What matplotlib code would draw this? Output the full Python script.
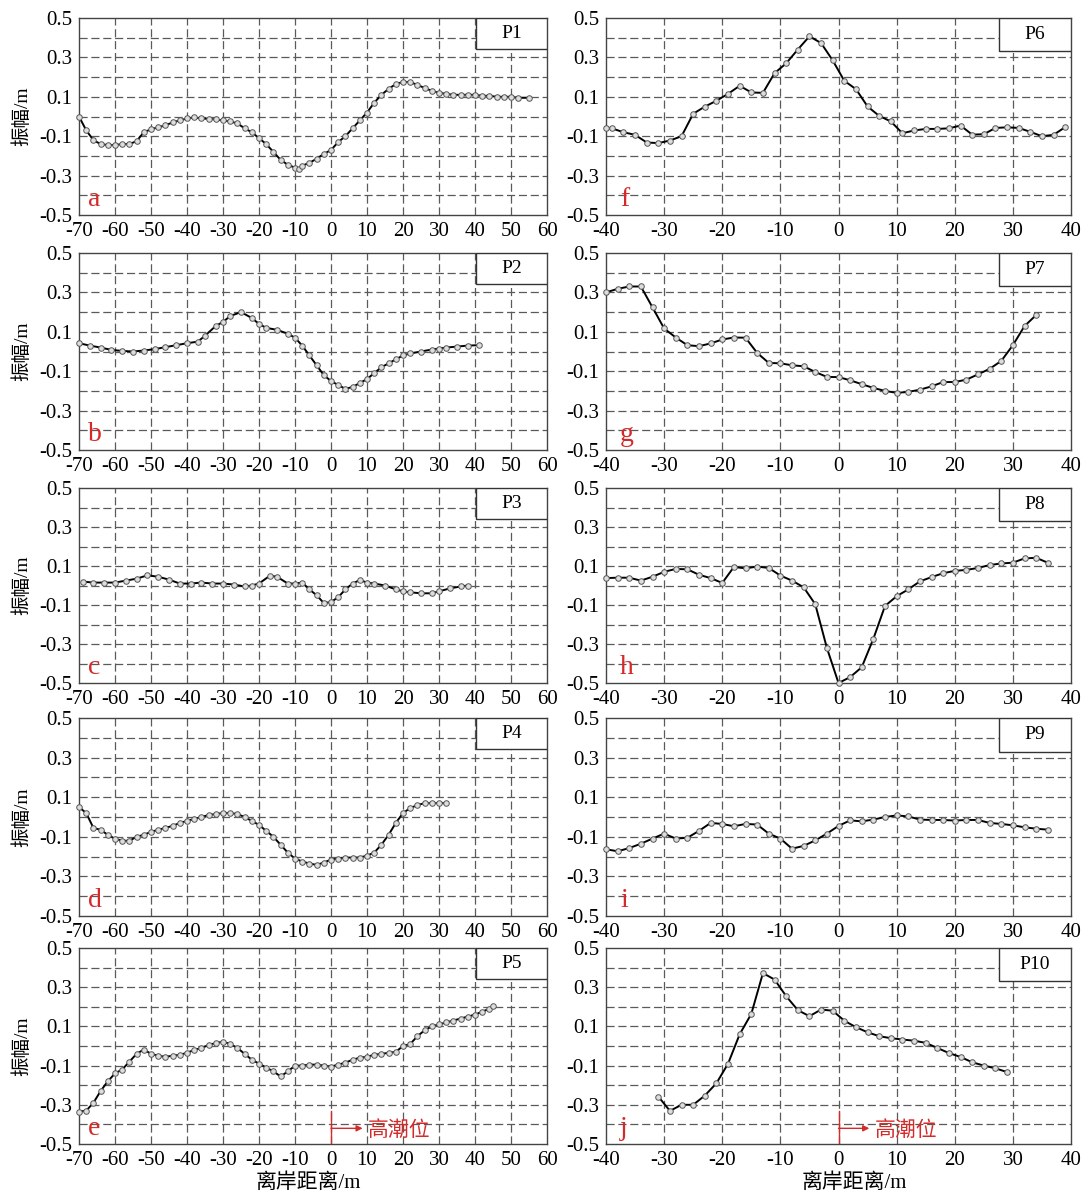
import matplotlib
matplotlib.use("Agg")
import matplotlib.pyplot as plt
from matplotlib.patches import Rectangle

plt.rcParams['font.family'] = ['Liberation Serif', 'Noto Sans CJK SC']

# ---------------- data ----------------
p1_x = [-70, -68, -66, -64, -62, -60, -58, -56, -54, -52, -50, -48, -46, -44, -42, -40, -38, -36, -34, -32,
        -30, -28, -26, -24, -22, -20, -18, -16, -14, -12, -10, -9, -8, -6, -4, -2, 0, 2, 4, 6, 8, 10, 12,
        14, 16, 18, 20, 22, 24, 26, 28, 30, 32, 34, 36, 38, 40, 42, 44, 46, 48, 50, 52, 55]
p1_y = [0.0, -0.07, -0.12, -0.14, -0.145, -0.145, -0.14, -0.14, -0.125, -0.08, -0.065, -0.055, -0.045,
        -0.03, -0.02, -0.01, -0.005, -0.01, -0.012, -0.015, -0.02, -0.025, -0.035, -0.06, -0.08, -0.11,
        -0.14, -0.18, -0.22, -0.245, -0.26, -0.265, -0.25, -0.235, -0.215, -0.19, -0.17, -0.13, -0.10,
        -0.06, -0.02, 0.02, 0.07, 0.11, 0.14, 0.165, 0.175, 0.175, 0.16, 0.145, 0.13, 0.12, 0.115, 0.11,
        0.11, 0.11, 0.11, 0.105, 0.105, 0.10, 0.10, 0.10, 0.095, 0.095]

p2_x = [-70, -67, -64, -61, -58, -55, -52, -49, -46, -43, -40, -37, -35, -32, -30, -28, -25, -22, -20,
        -18, -15, -12, -10, -8, -6, -4, -2, 0, 2, 4, 6, 8, 10, 12, 14, 16, 18, 20, 22, 25, 28, 30, 32,
        35, 38, 41]
p2_y = [0.042, 0.03, 0.02, 0.008, 0.003, 0.0, 0.005, 0.012, 0.022, 0.032, 0.042, 0.05, 0.08, 0.13, 0.15,
        0.18, 0.20, 0.17, 0.14, 0.12, 0.11, 0.09, 0.07, 0.03, -0.02, -0.07, -0.12, -0.15, -0.17, -0.19,
        -0.18, -0.16, -0.14, -0.11, -0.08, -0.06, -0.04, -0.02, -0.01, 0.0, 0.01, 0.015, 0.02, 0.025,
        0.03, 0.032]

p3_x = [-69, -66, -63, -60, -57, -54, -51, -48, -45, -42, -39, -36, -33, -30, -27, -24, -22, -20, -17,
        -15, -12, -10, -8, -6, -4, -2, 0, 2, 4, 6, 8, 10, 12, 15, 18, 20, 22, 25, 28, 30, 33, 36, 38]
p3_y = [0.02, 0.015, 0.015, 0.015, 0.025, 0.035, 0.052, 0.045, 0.03, 0.01, 0.01, 0.015, 0.01, 0.01,
        0.005, -0.005, 0.0, 0.01, 0.05, 0.045, 0.01, 0.01, 0.015, -0.02, -0.05, -0.09, -0.085, -0.06,
        -0.02, 0.01, 0.028, 0.015, 0.01, 0.0, -0.02, -0.03, -0.035, -0.04, -0.04, -0.03, -0.015, -0.005,
        0.0]

p4_x = [-70, -68, -66, -64, -62, -60, -58, -56, -54, -52, -50, -48, -46, -44, -42, -40, -38, -36, -34,
        -32, -30, -28, -26, -24, -22, -20, -18, -16, -14, -12, -10, -8, -6, -4, -2, 0, 2, 4, 6, 8, 10, 12,
        14, 16, 18, 20, 22, 24, 26, 28, 30, 32]
p4_y = [0.05, 0.02, -0.055, -0.065, -0.09, -0.11, -0.12, -0.12, -0.10, -0.09, -0.075, -0.065, -0.055,
        -0.045, -0.03, -0.02, -0.01, 0.0, 0.01, 0.015, 0.02, 0.02, 0.015, 0.0, -0.02, -0.04, -0.07,
        -0.10, -0.14, -0.18, -0.21, -0.225, -0.235, -0.242, -0.23, -0.215, -0.21, -0.205, -0.205,
        -0.205, -0.195, -0.18, -0.14, -0.09, -0.03, 0.02, 0.045, 0.06, 0.07, 0.07, 0.07, 0.07]

p5_x = [-70, -68, -66, -64, -62, -60, -58, -56, -54, -52, -50, -48, -46, -44, -42, -40, -38, -36, -34,
        -32, -30, -28, -26, -24, -22, -20, -18, -16, -14, -12, -10, -8, -6, -4, -2, 0, 2, 4, 6, 8, 10,
        12, 14, 16, 18, 20, 22, 24, 26, 28, 30, 32, 34, 36, 38, 40, 42, 44, 45]
p5_y = [-0.335, -0.33, -0.29, -0.23, -0.18, -0.14, -0.12, -0.08, -0.04, -0.018, -0.04, -0.05, -0.055,
        -0.05, -0.045, -0.035, -0.02, -0.01, 0.005, 0.015, 0.022, 0.01, -0.01, -0.04, -0.07, -0.09,
        -0.11, -0.13, -0.155, -0.13, -0.10, -0.10, -0.095, -0.095, -0.10, -0.105, -0.095, -0.085, -0.07,
        -0.06, -0.055, -0.045, -0.04, -0.035, -0.03, 0.0, 0.01, 0.05, 0.08, 0.10, 0.11, 0.12, 0.13, 0.14,
        0.15, 0.16, 0.175, 0.19, 0.205]

p6_x = [-40, -39, -37, -35, -33, -31, -29, -27, -25, -23, -21, -19, -17, -15, -13, -11, -9, -7, -5, -3,
        -1, 1, 3, 5, 7, 9, 11, 13, 15, 17, 19, 21, 23, 25, 27, 29, 31, 33, 35, 37, 39]
p6_y = [-0.06, -0.06, -0.08, -0.093, -0.132, -0.135, -0.122, -0.10, 0.014, 0.05, 0.08, 0.115, 0.156,
        0.122, 0.12, 0.22, 0.27, 0.34, 0.407, 0.373, 0.285, 0.181, 0.139, 0.051, 0.003, -0.025, -0.085,
        -0.071, -0.063, -0.063, -0.06, -0.046, -0.092, -0.09, -0.058, -0.055, -0.058, -0.078, -0.10,
        -0.093, -0.054]

p7_x = [-40, -38, -36, -34, -32, -30, -28, -26, -24, -22, -20, -18, -16, -14, -12, -10, -8, -6, -4, -2,
        0, 2, 4, 6, 8, 10, 12, 14, 16, 18, 20, 22, 24, 26, 28, 30, 32, 34]
p7_y = [0.30, 0.318, 0.33, 0.33, 0.224, 0.117, 0.071, 0.032, 0.027, 0.041, 0.061, 0.071, 0.07, -0.007,
        -0.058, -0.06, -0.07, -0.075, -0.104, -0.129, -0.13, -0.146, -0.166, -0.185, -0.20, -0.21, -0.205,
        -0.194, -0.177, -0.155, -0.155, -0.143, -0.116, -0.088, -0.048, 0.032, 0.129, 0.185]

p8_x = [-40, -38, -36, -34, -32, -30, -28, -26, -24, -22, -20, -18, -16, -14, -12, -10, -8, -6, -4, -2,
        0, 2, 4, 6, 8, 10, 12, 14, 16, 18, 20, 22, 24, 26, 28, 30, 32, 34, 36]
p8_y = [0.038, 0.04, 0.04, 0.025, 0.045, 0.07, 0.085, 0.083, 0.055, 0.038, 0.013, 0.095, 0.088, 0.097,
        0.09, 0.051, 0.025, -0.009, -0.096, -0.32, -0.50, -0.47, -0.419, -0.273, -0.105, -0.055, -0.02,
        0.021, 0.043, 0.063, 0.075, 0.08, 0.09, 0.105, 0.113, 0.117, 0.139, 0.142, 0.117]

p9_x = [-40, -38, -36, -34, -32, -30, -28, -26, -24, -22, -20, -18, -16, -14, -12, -10, -8, -6, -4, -2,
        0, 2, 4, 6, 8, 10, 12, 14, 16, 18, 20, 22, 24, 26, 28, 30, 32, 34, 36]
p9_y = [-0.163, -0.173, -0.157, -0.135, -0.109, -0.084, -0.109, -0.105, -0.07, -0.03, -0.035, -0.047,
        -0.035, -0.038, -0.084, -0.109, -0.16, -0.146, -0.118, -0.084, -0.045, -0.017, -0.022, -0.013,
        0.0, 0.008, 0.003, -0.013, -0.015, -0.015, -0.018, -0.015, -0.015, -0.03, -0.035, -0.042,
        -0.052, -0.059, -0.064]

p10_x = [-31, -29, -27, -25, -23, -21, -19, -17, -15, -13, -11, -9, -7, -5, -3, -1, 1, 3, 5, 7, 9, 11,
         13, 15, 17, 19, 21, 23, 25, 27, 29]
p10_y = [-0.258, -0.331, -0.30, -0.30, -0.253, -0.19, -0.09, 0.06, 0.164, 0.372, 0.339, 0.254, 0.183,
         0.152, 0.186, 0.18, 0.129, 0.096, 0.07, 0.05, 0.04, 0.033, 0.027, 0.016, -0.01, -0.036, -0.056,
         -0.083, -0.10, -0.114, -0.133]

names = ["P1", "P2", "P3", "P4", "P5", "P6", "P7", "P8", "P9", "P10"]
letters = ["a", "b", "c", "d", "e", "f", "g", "h", "i", "j"]
series_x = [p1_x, p2_x, p3_x, p4_x, p5_x, p6_x, p7_x, p8_x, p9_x, p10_x]
series_y = [p1_y, p2_y, p3_y, p4_y, p5_y, p6_y, p7_y, p8_y, p9_y, p10_y]

y_ticks = [0.5, 0.3, 0.1, -0.1, -0.3, -0.5]
y_grid = [0.4, 0.3, 0.2, 0.1, 0.0, -0.1, -0.2, -0.3, -0.4]
left_xticks = list(range(-70, 61, 10))
right_xticks = list(range(-40, 41, 10))
ylabel_text = "振幅/m"
xlabel_text = "离岸距离/m"
tide_text = "高潮位"

# ---------------- layout ----------------
W, H = 1084, 1202
fig = plt.figure(figsize=(W / 100, H / 100), dpi=100)

rows_px = [(18, 215), (253, 450), (488, 683), (718, 916), (948, 1144)]
cols_px = [(79, 547), (606, 1071)]

red = "#d42a2a"
grid_col = "#5a5a5a"

for i in range(10):
    col = i // 5
    row = i % 5
    x0, x1 = cols_px[col]
    y0, y1 = rows_px[row]
    ax = fig.add_axes([x0 / W, 1 - y1 / H, (x1 - x0) / W, (y1 - y0) / H])

    xt = left_xticks if col == 0 else right_xticks
    ax.set_xlim(xt[0], xt[-1])
    ax.set_ylim(-0.5, 0.5)
    ax.set_xticks(xt)
    ax.set_xticklabels([str(v) for v in xt])
    ax.set_yticks(y_ticks)
    ax.set_yticklabels([f"{v:.1f}" for v in y_ticks])
    ax.tick_params(length=0, labelsize=15)
    ax.tick_params(axis="y", pad=5)
    ax.tick_params(axis="x", pad=5)

    for v in y_grid:
        ax.axhline(v, color=grid_col, lw=0.9, ls=(0, (6.5, 3)), zorder=1)
    for v in xt[1:-1]:
        ax.axvline(v, color=grid_col, lw=0.9, ls=(0, (6.5, 3)), zorder=1)

    for s in ax.spines.values():
        s.set_color("#444444")
        s.set_linewidth(1.0)

    ax.plot(series_x[i], series_y[i], color="black", lw=1.4, marker="o", ms=4,
            mfc="#dddddd", mec="#555555", mew=0.7, zorder=3, clip_on=False)

    # name box
    bw = 0.152 if col == 0 else 0.155
    bh = 0.158 if col == 0 else 0.17
    ax.add_patch(Rectangle((1 - bw, 1 - bh), bw, bh, transform=ax.transAxes,
                           facecolor="white", edgecolor="#333333", lw=1.0, zorder=4))
    ax.text(1 - bw / 2, 1 - bh / 2, names[i], transform=ax.transAxes, ha="center",
            va="center", fontsize=14, zorder=5)

    # panel letter
    ax.text(0.02 if col == 0 else 0.03, 0.015, letters[i], transform=ax.transAxes,
            ha="left", va="bottom", fontsize=20, color=red, zorder=5)

    if col == 0:
        ax.set_ylabel(ylabel_text, fontsize=14, va="center")
        ax.yaxis.set_label_coords(-0.122, 0.5)
    if row == 4:
        lbl = ax.set_xlabel(xlabel_text, fontsize=15, va="center")
        ax.xaxis.set_label_coords(0.49 if col == 0 else 0.535, -0.2)
        alen = 8.8 if col == 0 else 5.3
        tx = 10.2 if col == 0 else 6.3
        ax.plot([0, 0], [-0.5, -0.33], color=red, lw=1.0, zorder=5)
        ax.annotate("", xy=(alen, -0.42), xytext=(0, -0.42),
                    arrowprops=dict(arrowstyle="-|>", color=red, lw=1.0, mutation_scale=9,
                                    shrinkA=0, shrinkB=0),
                    zorder=5)
        ax.text(tx, -0.435, tide_text, color=red, fontsize=15, ha="left", va="center", zorder=5)

fig.savefig("out.png", dpi=100)
